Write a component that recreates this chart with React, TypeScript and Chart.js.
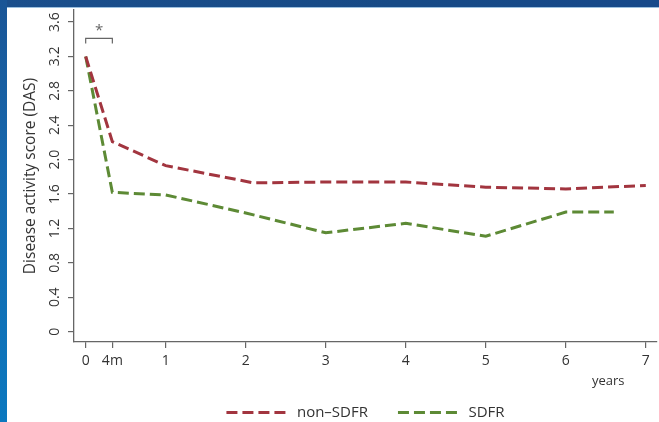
import React, { useEffect, useRef } from "react";
import { Chart, registerables } from "chart.js";

Chart.register(...registerables);

// Follow-up times (years) and mean DAS per group
const nonSdfrYears = [0, 0.333, 1.0, 2.1, 3, 4, 5, 6, 7];
const nonSdfrDAS = [3.2, 2.21, 1.93, 1.73, 1.74, 1.74, 1.68, 1.66, 1.7];
const sdfrYears = [0, 0.333, 1, 2, 3, 4, 5, 6, 6.6];
const sdfrDAS = [3.2, 1.62, 1.59, 1.38, 1.15, 1.26, 1.11, 1.39, 1.39];

const xTickValues = [0, 1 / 3, 1, 2, 3, 4, 5, 6, 7];
const xTickLabels = ["0", "4m", "1", "2", "3", "4", "5", "6", "7"];
const yTickValues = [0, 0.4, 0.8, 1.2, 1.6, 2.0, 2.4, 2.8, 3.2, 3.6];
const yTickLabels = ["0", "0.4", "0.8", "1.2", "1.6", "2.0", "2.4", "2.8", "3.2", "3.6"];

// significance bracket between baseline and 4 months
const bracketFrom = 0;
const bracketTo = 1 / 3;
const bracketLevel = 3.41;
const bracketLegEnd = 3.35;
const bracketMark = "*";

const RED = "#a2353f";
const GREEN = "#5d8a35";
const AXIS = "#666666";
const TEXT = "#333333";
const FONT = "'Open Sans', sans-serif";
const DASH = [11, 5];

const annotationPlugin = {
  id: "extras",
  afterDraw(chart: any) {
    const { ctx, scales } = chart;
    const x = scales.x;
    const y = scales.y;
    ctx.save();
    // bracket
    const x0 = x.getPixelForValue(bracketFrom);
    const x1 = x.getPixelForValue(bracketTo);
    const yl = y.getPixelForValue(bracketLevel);
    const yb = y.getPixelForValue(bracketLegEnd);
    ctx.strokeStyle = AXIS;
    ctx.lineWidth = 1.2;
    ctx.beginPath();
    ctx.moveTo(x0, yb);
    ctx.lineTo(x0, yl);
    ctx.lineTo(x1, yl);
    ctx.lineTo(x1, yb);
    ctx.stroke();
    ctx.fillStyle = "#666";
    ctx.font = `15px ${FONT}`;
    ctx.textAlign = "center";
    ctx.textBaseline = "middle";
    ctx.fillText(bracketMark, (x0 + x1) / 2, yl - 8);
    // unit label under the time axis
    ctx.fillStyle = TEXT;
    ctx.font = `13px ${FONT}`;
    ctx.fillText("years", x.getPixelForValue(6.53), x.bottom + 6);
    ctx.restore();
  },
};

export default function App() {
  const ref = useRef<HTMLCanvasElement>(null);

  useEffect(() => {
    if (!ref.current) return;
    const chart = new Chart(ref.current, {
      type: "line",
      data: {
        datasets: [
          {
            label: "non\u2013SDFR",
            data: nonSdfrYears.map((t, i) => ({ x: t, y: nonSdfrDAS[i] })),
            borderColor: RED,
            backgroundColor: RED,
            borderWidth: 3,
            borderDash: DASH,
            pointRadius: 0,
            tension: 0,
          },
          {
            label: "SDFR",
            data: sdfrYears.map((t, i) => ({ x: t, y: sdfrDAS[i] })),
            borderColor: GREEN,
            backgroundColor: GREEN,
            borderWidth: 3,
            borderDash: DASH,
            pointRadius: 0,
            tension: 0,
          },
        ],
      },
      options: {
        animation: false,
        responsive: false,
        layout: { padding: { left: 0, right: 2, top: 2, bottom: 0 } },
        plugins: {
          tooltip: { enabled: false },
          legend: {
            position: "bottom",
            fullSize: false,
            labels: {
              usePointStyle: true,
              pointStyle: "line",
              pointStyleWidth: 63,
              boxHeight: 15,
              padding: 30,
              color: TEXT,
              font: { family: FONT, size: 15 },
              generateLabels(chart: any) {
                return chart.data.datasets.map((ds: any, i: number) => ({
                  text: ds.label,
                  datasetIndex: i,
                  fillStyle: ds.borderColor,
                  strokeStyle: ds.borderColor,
                  lineWidth: ds.borderWidth,
                  lineDash: ds.borderDash,
                  lineCap: "butt",
                  pointStyle: "line",
                  fontColor: TEXT,
                  hidden: false,
                }));
              },
            },
          },
        },
        scales: {
          x: {
            type: "linear",
            min: -0.146,
            max: 7.14,
            afterBuildTicks(scale: any) {
              scale.ticks = xTickValues.map((v) => ({ value: v }));
            },
            afterFit(scale: any) {
              scale.height = 33;
              scale.paddingLeft = 0;
              scale.paddingRight = 0;
            },
            ticks: {
              autoSkip: false,
              maxRotation: 0,
              padding: 5,
              color: TEXT,
              font: { family: FONT, size: 14 },
              callback(value: any) {
                const i = xTickValues.findIndex((v) => Math.abs(v - value) < 1e-6);
                return i >= 0 ? xTickLabels[i] : "";
              },
            },
            grid: {
              display: true,
              drawOnChartArea: false,
              drawTicks: true,
              tickLength: 6,
              color: AXIS,
              lineWidth: 1.2,
            },
            border: { display: true, color: AXIS, width: 1.3 },
          },
          y: {
            type: "linear",
            min: -0.12,
            max: 3.74,
            afterBuildTicks(scale: any) {
              scale.ticks = yTickValues.map((v) => ({ value: v }));
            },
            afterFit(scale: any) {
              scale.width = 67;
              scale.paddingTop = 0;
              scale.paddingBottom = 0;
            },
            ticks: {
              autoSkip: false,
              minRotation: 90,
              maxRotation: 90,
              crossAlign: "center",
              padding: 3,
              color: TEXT,
              font: { family: FONT, size: 14 },
              callback(value: any) {
                const i = yTickValues.findIndex((v) => Math.abs(v - value) < 1e-6);
                return i >= 0 ? yTickLabels[i] : "";
              },
            },
            grid: {
              display: true,
              drawOnChartArea: false,
              drawTicks: true,
              tickLength: 6,
              color: AXIS,
              lineWidth: 1.2,
            },
            border: { display: true, color: AXIS, width: 1.3 },
            title: {
              display: true,
              text: "Disease activity score (DAS)",
              color: TEXT,
              font: { family: FONT, size: 15.5 },
              padding: { top: 14, bottom: 0 },
            },
          },
        },
      },
      plugins: [annotationPlugin],
    });
    return () => chart.destroy();
  }, []);

  return (
    <div
      style={{
        position: "fixed",
        left: 0,
        top: 0,
        width: 659,
        height: 422,
        overflow: "hidden",
        background: "#ffffff",
      }}
    >
      <div
        style={{
          position: "absolute",
          left: 0,
          top: 0,
          width: 659,
          height: 8,
          background: "linear-gradient(90deg, #1b4f8c, #174a86 60%, #17498a)",
          borderBottom: "1px solid #9cc0df",
          boxSizing: "border-box",
        }}
      />
      <div
        style={{
          position: "absolute",
          left: 0,
          top: 0,
          width: 7,
          height: 422,
          background: "linear-gradient(180deg, #1a5596, #1668ad 40%, #0b78bf)",
        }}
      />
      <canvas
        ref={ref}
        width={652}
        height={422}
        style={{ position: "absolute", left: 7, top: 8, width: 652, height: 422 }}
      />
    </div>
  );
}
